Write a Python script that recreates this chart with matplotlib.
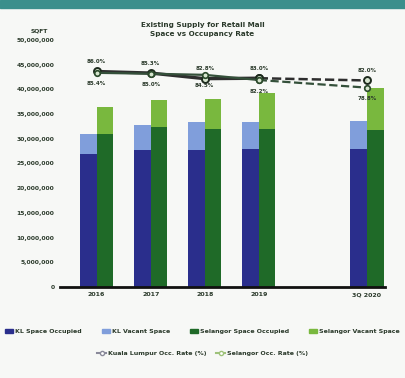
import matplotlib
matplotlib.use("Agg")
import matplotlib.pyplot as plt
from matplotlib.lines import Line2D
from matplotlib.patches import Patch, Rectangle

# data
periods = ['2016', '2017', '2018', '2019', '3Q 2020']
x_pos = [0, 1, 2, 3, 5]
kl_occupied = [27.0e6, 27.8e6, 27.8e6, 28.0e6, 28.0e6]
kl_vacant = [4.0e6, 4.9e6, 5.7e6, 5.5e6, 5.7e6]
sel_occupied = [31.0e6, 32.3e6, 31.9e6, 32.0e6, 31.7e6]
sel_vacant = [5.5e6, 5.5e6, 6.2e6, 7.3e6, 8.5e6]
kl_rate = [86.0, 85.3, 82.8, 83.0, 82.0]
sel_rate = [85.4, 85.0, 84.5, 82.2, 78.8]

c_kl_occ = '#2a2e8c'
c_kl_vac = '#809edb'
c_sel_occ = '#1f6a28'
c_sel_vac = '#79b83e'
c_kl_line = '#2e2e2e'
c_sel_line = '#34503a'
txt = '#2b3a2b'

fig = plt.figure(figsize=(4.05, 3.78), dpi=100)
fig.patch.set_facecolor('#f7f8f6')
fig.add_artist(Rectangle((0, 0.978), 1, 0.022, transform=fig.transFigure,
                         color='#3b8f8c', zorder=0))

ax = fig.add_axes([0.148, 0.241, 0.803, 0.653])
ax.set_facecolor('none')
w = 0.31
kl_x = [p - w / 2 for p in x_pos]
sel_x = [p + w / 2 for p in x_pos]
ax.bar(kl_x, kl_occupied, w, color=c_kl_occ)
ax.bar(kl_x, kl_vacant, w, bottom=kl_occupied, color=c_kl_vac)
ax.bar(sel_x, sel_occupied, w, color=c_sel_occ)
ax.bar(sel_x, sel_vacant, w, bottom=sel_occupied, color=c_sel_vac)

ax.set_xlim(-0.68, 5.34)
ax.set_ylim(0, 50e6)
ax.set_yticks(range(0, 50000001, 5000000))
ax.set_yticklabels([f'{v:,}' for v in range(0, 50000001, 5000000)],
                   fontsize=4.3, fontweight='bold', color=txt)
ax.set_xticks(x_pos)
ax.set_xticklabels(periods, fontsize=4.5, fontweight='bold', color=txt)
ax.tick_params(length=0, pad=4)
for s in ['top', 'right', 'left']:
    ax.spines[s].set_visible(False)
ax.spines['bottom'].set_linewidth(2)
ax.spines['bottom'].set_color('#111111')

ax2 = ax.twinx()
ax2.set_ylim(-10, 100)
ax2.axis('off')
ax2.plot(x_pos[:4], kl_rate[:4], color=c_kl_line, lw=2.4, marker='o', ms=5,
         mfc='#d7e6cf', mec='#1d2a1d', mew=1.4)
ax2.plot(x_pos[3:], kl_rate[3:], color=c_kl_line, lw=1.8, ls='--', marker='o',
         ms=5, mfc='#d7e6cf', mec='#1d2a1d', mew=1.4)
ax2.plot(x_pos[:4], sel_rate[:4], color=c_sel_line, lw=1.6, marker='o', ms=4,
         mfc='#d7e6cf', mec='#2b4a2b', mew=1.2)
ax2.plot(x_pos[3:], sel_rate[3:], color=c_sel_line, lw=1.6, ls='--', marker='o',
         ms=4, mfc='#d7e6cf', mec='#2b4a2b', mew=1.2)
for xp, kv, sv in zip(x_pos, kl_rate, sel_rate):
    ax2.annotate(f'{kv:.1f}%', (xp, kv), xytext=(0, 6), textcoords='offset points',
                 ha='center', fontsize=4, fontweight='bold', color=txt)
    ax2.annotate(f'{sv:.1f}%', (xp, sv), xytext=(0, -9), textcoords='offset points',
                 ha='center', fontsize=4, fontweight='bold', color=txt)

fig.text(0.5, 0.923, 'Existing Supply for Retail Mall\nSpace vs Occupancy Rate',
         ha='center', va='center', fontsize=5.2, fontweight='bold', color=txt,
         linespacing=1.6)
fig.text(0.075, 0.915, 'SQFT', fontsize=4.3, fontweight='bold', color=txt)

bar_handles = [Patch(color=c_kl_occ), Patch(color=c_kl_vac),
               Patch(color=c_sel_occ), Patch(color=c_sel_vac)]
bar_labels = ['KL Space Occupied', 'KL Vacant Space',
              'Selangor Space Occupied', 'Selangor Vacant Space']
leg1 = fig.legend(bar_handles, bar_labels, ncol=4, loc='center',
                  bbox_to_anchor=(0.5, 0.122), frameon=False,
                  prop={'size': 4.5, 'weight': 'bold'}, handlelength=1.3,
                  handleheight=0.5, columnspacing=3.2, handletextpad=0.3)
for t in leg1.get_texts():
    t.set_color(txt)
line_handles = [Line2D([], [], color='#8a8a9a', lw=1.5, marker='o', ms=3, mfc='white'),
                Line2D([], [], color='#9ec27a', lw=1.5, marker='o', ms=3, mfc='white')]
leg2 = fig.legend(line_handles, ['Kuala Lumpur Occ. Rate (%)', 'Selangor Occ. Rate (%)'],
                  ncol=2, loc='center', bbox_to_anchor=(0.5, 0.066), frameon=False,
                  prop={'size': 4.5, 'weight': 'bold'}, handlelength=1.5,
                  columnspacing=1.5, handletextpad=0.3)
for t in leg2.get_texts():
    t.set_color(txt)

fig.savefig('out.png', dpi=100, facecolor=fig.get_facecolor())
